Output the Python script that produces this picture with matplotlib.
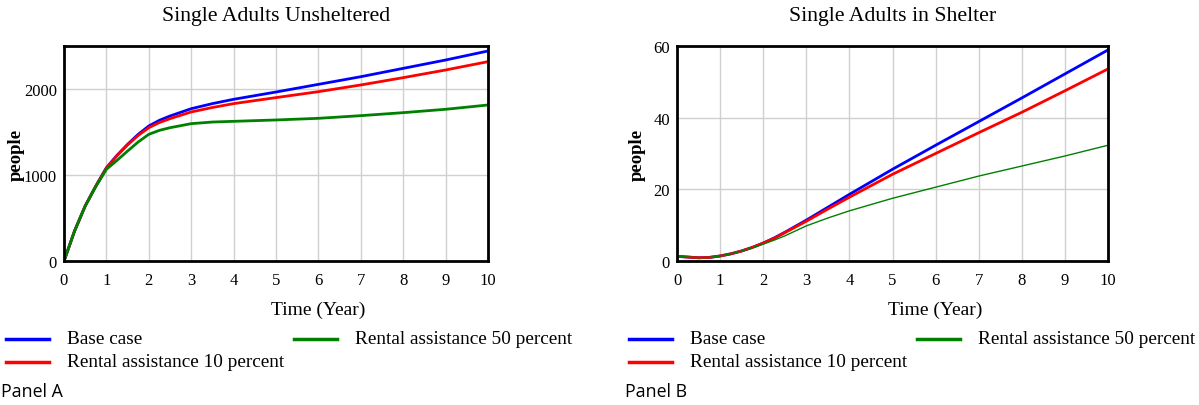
import matplotlib
matplotlib.use("Agg")
import matplotlib.pyplot as plt

# ---------------
# Data (read off)
# ---------------
years = [0, 0.25, 0.5, 0.75, 1, 1.25, 1.5, 1.75, 2, 2.25, 2.5, 3, 3.5, 4,
         5, 6, 7, 8, 9, 10]

unsheltered_base = [0, 350, 640, 872, 1085, 1229, 1357, 1473, 1570, 1636,
                    1686, 1771, 1830, 1880, 1965, 2054, 2143, 2240, 2337, 2442]
unsheltered_r10 = [0, 350, 640, 872, 1080, 1225, 1350, 1460, 1550, 1610,
                   1655, 1733, 1785, 1830, 1900, 1969, 2047, 2132, 2221, 2318]
unsheltered_r50 = [0, 350, 640, 865, 1066, 1170, 1279, 1384, 1473, 1519,
                   1550, 1597, 1616, 1624, 1640, 1659, 1690, 1725, 1764, 1814]

shelter_base = [1.3, 1.1, 0.9, 1.0, 1.4, 2.0, 2.8, 3.8, 5.0, 6.4, 8.0, 11.4,
                15.0, 18.6, 25.6, 32.3, 38.9, 45.5, 52.2, 58.9]
shelter_r10 = [1.3, 1.1, 0.9, 1.0, 1.4, 2.0, 2.8, 3.8, 5.0, 6.3, 7.9, 11.1,
               14.5, 17.8, 24.2, 30.0, 35.8, 41.5, 47.5, 53.6]
shelter_r50 = [1.3, 1.1, 0.9, 1.0, 1.4, 2.0, 2.8, 3.7, 4.7, 5.8, 7.0, 9.8,
               12.0, 14.0, 17.5, 20.6, 23.7, 26.5, 29.3, 32.3]

series_labels = ["Base case", "Rental assistance 10 percent",
                 "Rental assistance 50 percent"]
series_colors = ["#0000ff", "#ff0000", "#008000"]

W, H = 1199, 406
SERIF = "Liberation Serif"


def px_axes(fig, x0, y0, x1, y1):
    """Axes from pixel box (top-left origin)."""
    return fig.add_axes([x0 / W, 1 - y1 / H, (x1 - x0) / W, (y1 - y0) / H])


def draw_panel(fig, box, title, ymax, yticks, data, widths, ylabel_x,
               xlabel_x, legend_x, green_x, panel_x, panel_name):
    ax = px_axes(fig, *box)
    for vals, col, lw in zip(data, series_colors, widths):
        ax.plot(years, vals, color=col, lw=lw)
    ax.set_xlim(0, 10)
    ax.set_ylim(0, ymax)
    ax.set_xticks(range(11))
    ax.set_yticks(yticks)
    ax.grid(True, color="#d0d0d0", lw=1)
    ax.set_axisbelow(True)
    for s in ax.spines.values():
        s.set_linewidth(2)
        s.set_color("black")
    ax.tick_params(length=0, labelsize=12)
    ax.tick_params(axis="x", pad=8)
    ax.tick_params(axis="y", pad=5)
    for lab in ax.get_xticklabels() + ax.get_yticklabels():
        lab.set_family(SERIF)

    cx = (box[0] + box[2]) / 2
    fig.text(cx / W, 1 - 17 / H, title, ha="center", va="center",
             family=SERIF, fontsize=15.7)
    fig.text(ylabel_x / W, 1 - (box[1] + box[3]) / 2 / H, "people",
             rotation=90, ha="center", va="center", family=SERIF,
             fontsize=13.5, fontweight="bold")
    fig.text(xlabel_x / W, 1 - 310 / H, "Time (Year)", ha="center",
             va="center", family=SERIF, fontsize=14)

    # legend rows
    entries = [(legend_x, 340, 0), (legend_x, 363, 1), (green_x, 340, 2)]
    for lx, ly, i in entries:
        fig.add_artist(plt.Line2D([lx / W, (lx + 43) / W],
                                  [1 - ly / H, 1 - ly / H],
                                  color=series_colors[i], lw=2.5))
        fig.text((lx + 61) / W, 1 - ly / H, series_labels[i], ha="left",
                 va="center", family=SERIF, fontsize=13.9)
    fig.text(panel_x / W, 1 - 392 / H, panel_name, ha="left",
             va="center", family="Open Sans", fontsize=12.8)


fig = plt.figure(figsize=(W / 100, H / 100), dpi=100)
fig.patch.set_facecolor("white")

draw_panel(fig, (64, 47, 488, 262), "Single Adults Unsheltered", 2500,
           [0, 1000, 2000],
           [unsheltered_base, unsheltered_r10, unsheltered_r50],
           [2, 2, 2], 16, 318, 6, 294, 1, "Panel A")
draw_panel(fig, (677, 47, 1108, 262), "Single Adults in Shelter", 60,
           [0, 20, 40, 60],
           [shelter_base, shelter_r10, shelter_r50],
           [2, 2, 1], 637, 935, 629, 917, 625, "Panel B")

fig.savefig("out.png", dpi=100)
